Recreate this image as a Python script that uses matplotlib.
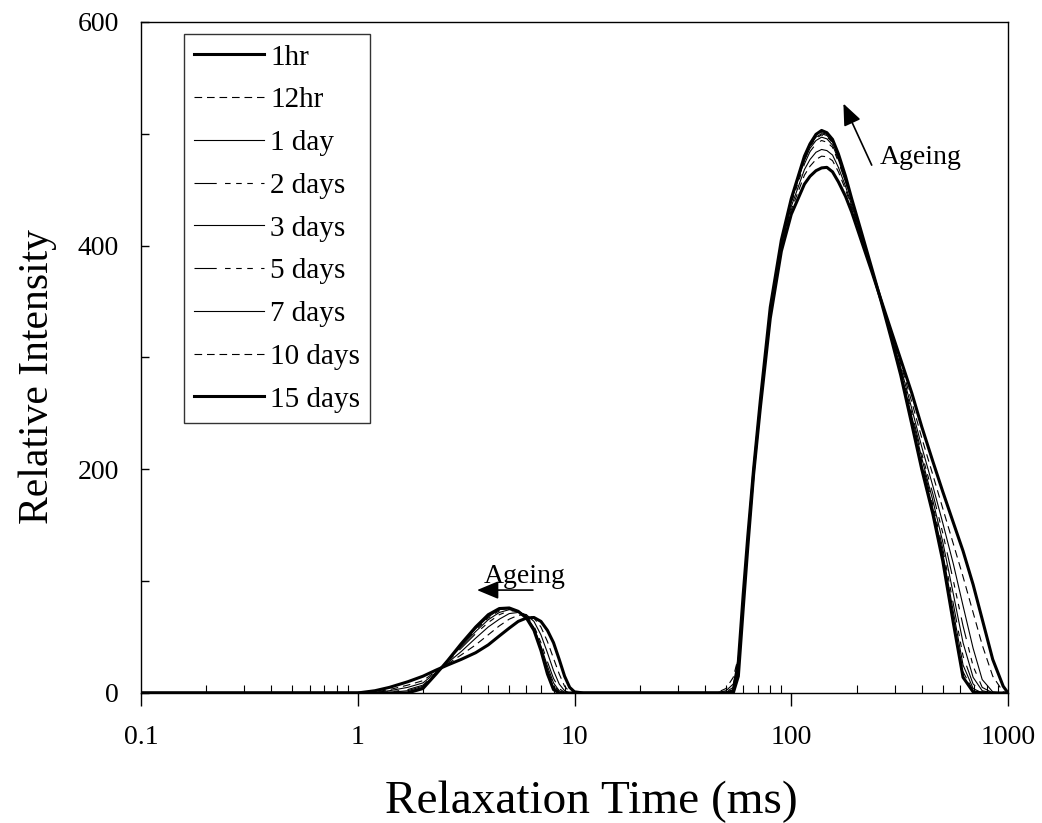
import matplotlib
matplotlib.use("Agg")
import matplotlib.pyplot as plt

plt.rcParams['font.family'] = ['Liberation Serif', 'DejaVu Serif']
plt.rcParams['lines.scale_dashes'] = False

# relaxation time grids (ms) for the two peaks
t_small = [1.0, 1.2, 1.4, 1.7, 2.0, 2.3, 2.6, 3.0, 3.5, 4.0, 4.5, 5.0, 5.5, 6.0,
           6.5, 7.0, 7.5, 8.0, 8.5, 9.0, 9.5, 10.0, 11.0]
t_big = [45, 50, 54, 57, 60, 63, 67, 72, 80, 90, 100, 115, 122, 130, 138, 146, 155,
         165, 178, 190, 210, 235, 260, 290, 320, 360, 400, 450, 500, 560, 620, 690,
         760, 850, 950, 1000]

labels = ["1hr", "12hr", "1 day", "2 days", "3 days", "5 days", "7 days",
          "10 days", "15 days"]

# small peak intensities
s_1hr = [0, 2, 5, 10, 15, 20.5, 25, 30, 36, 43, 51, 58, 64, 67, 67.5, 64, 56, 45, 30, 15, 5, 1, 0]
s_12hr = [0, 1, 3, 7, 11, 19.5, 26, 34, 43, 52, 60, 66, 69.5, 70, 67, 59, 46, 31, 17, 6, 1, 0, 0]
s_1d = [0, 0.5, 2, 5, 9, 18.5, 27, 37, 49, 59, 66, 71, 72, 70, 64, 52, 36, 20, 8, 2, 0, 0, 0]
s_2d = [0, 0, 1, 3, 7, 18, 28, 40, 53, 63, 70, 73.5, 73, 69, 60, 45, 28, 13, 4, 0.5, 0, 0, 0]
s_3d = [0, 0, 0.5, 2, 6, 17.5, 28.5, 41.5, 55, 65.5, 72, 74.5, 73, 68.5, 58.5, 42, 24, 9, 2, 0, 0, 0, 0]
s_5d = [0, 0, 0, 1, 5, 17.5, 29, 42.5, 56.5, 67, 73.5, 75, 73, 68, 57.5, 40.5, 21, 7, 1, 0, 0, 0, 0]
s_7d = [0, 0, 0, 0.5, 4.5, 17, 29, 43, 57.5, 68, 74.5, 75.5, 73, 67.5, 57, 39.5, 19.5, 5, 0.5, 0, 0, 0, 0]
s_10d = [0, 0, 0, 0, 4, 17, 29, 43.5, 58, 69, 75, 76, 73, 67, 56.5, 39, 18, 4, 0, 0, 0, 0, 0]
s_15d = [0, 0, 0, 0, 4, 17, 29, 44, 59, 70, 75.5, 76, 73, 67, 56, 38, 17, 3, 0, 0, 0, 0, 0]

# large peak intensities
b_1hr = [0, 0, 0, 15, 75, 130, 195, 255, 335, 395, 428, 455, 462, 467, 469.5, 470, 466,
         457, 444, 430, 405, 377, 351, 323, 298, 268, 238, 207, 180, 152, 127, 97,
         66, 30, 6, 0]
b_12hr = [0, 4, 14, 32, 82, 134, 197, 258, 338, 398, 432, 463, 471, 477, 480, 479.5, 476,
          466, 450, 434, 407, 378, 351, 321, 294, 260, 228, 195, 165, 133, 104, 72,
          43, 15, 1, 0]
b_1d = [0, 2, 8, 26, 84, 136, 198, 259, 340, 400, 435, 468, 477, 483.5, 486, 485, 481,
        470, 453, 436, 409, 379, 350, 319, 291, 254, 220, 185, 152, 115, 78, 40,
        12, 1, 0, 0]
b_2d = [0, 1, 5, 26, 86, 138, 199, 260, 342, 402, 438, 473, 484, 491, 494, 492.5, 488,
        475, 457, 439, 411, 379, 350, 318, 289, 250, 214, 178, 143, 100, 60, 24,
        5, 0, 0, 0]
b_3d = [0, 0, 3, 27, 87, 139, 200, 261, 343, 403, 440, 476, 487, 494, 497, 495.5, 490,
        477, 458, 440, 411, 380, 350, 317, 287, 247, 210, 172, 135, 88, 45, 14,
        2, 0, 0, 0]
b_5d = [0, 0, 2, 27, 87, 139, 200, 261, 344, 404, 441, 477, 488.5, 496, 499, 497.5, 492,
        479, 459, 441, 412, 380, 350, 317, 286, 245, 207, 168, 129, 79, 33, 8,
        1, 0, 0, 0]
b_7d = [0, 0, 2, 28, 88, 140, 200, 262, 344, 404, 441, 478, 489.5, 497, 500, 498.5, 493,
        480, 460, 441, 412, 380, 350, 316, 285, 243, 204, 165, 125, 72, 25, 4,
        0, 0, 0, 0]
b_10d = [0, 0, 2, 28, 88, 140, 200, 262, 345, 405, 442, 479, 490, 498, 501, 499.5, 494,
         481, 461, 442, 413, 380, 350, 316, 284, 242, 202, 162, 121, 67, 19, 2,
         0, 0, 0, 0]
b_15d = [0, 0, 2, 28, 88, 140, 200, 262, 345, 405, 442, 480, 491, 499.5, 503, 501, 495,
         482, 462, 442, 413, 380, 350, 316, 284, 240, 200, 160, 118, 62, 14, 1,
         0, 0, 0, 0]

small = [s_1hr, s_12hr, s_1d, s_2d, s_3d, s_5d, s_7d, s_10d, s_15d]
big = [b_1hr, b_12hr, b_1d, b_2d, b_3d, b_5d, b_7d, b_10d, b_15d]

thick = 2.2
thin = 0.8
longdash = (16, 6, 4, 4, 4, 4, 4, 6)
shortdash = (5.5, 3.5)
styles = [
    dict(lw=thick),
    dict(lw=thin, dashes=shortdash),
    dict(lw=thin),
    dict(lw=thin, dashes=longdash),
    dict(lw=thin),
    dict(lw=thin, dashes=longdash),
    dict(lw=thin),
    dict(lw=thin, dashes=shortdash),
    dict(lw=thick),
]

fig = plt.figure(figsize=(10.42, 8.23), dpi=100)
ax = fig.add_axes([0.1353, 0.158, 0.8321, 0.8153])

for lab, s, b, st in zip(labels, small, big, styles):
    x = [0.1] + t_small + t_big
    y = [0] + s + b
    ax.plot(x, y, color='black', label=lab, **st)

ax.set_xscale('log')
ax.set_xlim(0.1, 1000)
ax.set_ylim(0, 600)
ax.set_xticks([0.1, 1, 10, 100, 1000])
ax.set_xticklabels(["0.1", "1", "10", "100", "1000"])
ax.set_yticks([0, 200, 400, 600])
ax.set_yticks([100, 300, 500], minor=True)
ax.tick_params(axis='x', which='major', direction='out', length=9, width=1,
               labelsize=20, pad=14)
ax.tick_params(axis='x', which='minor', direction='in', length=6, width=0.8)
ax.tick_params(axis='y', which='both', direction='in', length=6, width=1,
               labelsize=20, pad=16)
for sp in ax.spines.values():
    sp.set_linewidth(1.0)

ax.set_xlabel("Relaxation Time (ms)", fontsize=34)
ax.xaxis.set_label_coords(0.519, -0.13)
ax.set_ylabel("Relative Intensity", fontsize=30)
ax.yaxis.set_label_coords(-0.097, 0.472)

leg = ax.legend(loc='upper left', bbox_to_anchor=(0.0496, 0.982), borderaxespad=0,
                fontsize=21, frameon=True, fancybox=False, handlelength=2.4,
                handletextpad=0.2, labelspacing=0.56, borderpad=0.35)
leg.get_frame().set_edgecolor('black')
leg.get_frame().set_linewidth(1.0)

arrow = dict(arrowstyle='-|>,head_length=0.6,head_width=0.25', color='black',
             lw=1.2, mutation_scale=22, shrinkA=0, shrinkB=0)
ax.annotate("", xy=(3.55, 92), xytext=(6.43, 92), arrowprops=arrow)
ax.text(5.9, 104, "Ageing", fontsize=20, ha='center', va='center')
ax.annotate("", xy=(174, 527), xytext=(235, 472), arrowprops=arrow)
ax.text(397, 479, "Ageing", fontsize=20, ha='center', va='center')

fig.savefig("out.png", dpi=100)
